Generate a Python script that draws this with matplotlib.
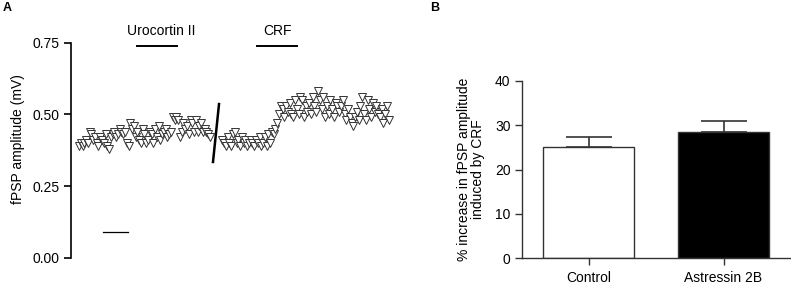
import numpy as np
import matplotlib
matplotlib.use("Agg")
import matplotlib.pyplot as plt

plt.rcParams['font.family'] = ['Liberation Sans', 'DejaVu Sans']
plt.rcParams['font.size'] = 10

# Panel A: fPSP amplitude (mV), one sample per point, two recordings
seg1 = [0.39, 0.40, 0.39, 0.40, 0.41, 0.40, 0.44, 0.43, 0.41, 0.42, 0.40, 0.39, 0.42, 0.41, 0.40,
        0.43, 0.39, 0.38, 0.42, 0.43, 0.44, 0.42, 0.43, 0.45, 0.44, 0.43, 0.44, 0.40, 0.39, 0.47,
        0.45, 0.46, 0.42, 0.44, 0.41, 0.40, 0.45, 0.43, 0.40, 0.41, 0.44, 0.43, 0.40, 0.45, 0.42,
        0.46, 0.41, 0.43, 0.44, 0.45, 0.42, 0.43, 0.44, 0.49, 0.48, 0.49, 0.48, 0.42, 0.44, 0.47,
        0.45, 0.46, 0.43, 0.48, 0.47, 0.44, 0.48, 0.44, 0.46, 0.47, 0.44, 0.45, 0.44, 0.43, 0.42]
seg2 = [0.41, 0.40, 0.39, 0.42, 0.40, 0.39, 0.43, 0.44, 0.40, 0.41, 0.39, 0.42, 0.40, 0.41, 0.39,
        0.40, 0.41, 0.40, 0.39, 0.41, 0.40, 0.42, 0.39, 0.40, 0.42, 0.39, 0.43, 0.40,
        0.44, 0.43, 0.45, 0.47, 0.50, 0.53, 0.52, 0.49, 0.53, 0.51,
        0.54, 0.50, 0.49, 0.55, 0.52, 0.50, 0.56, 0.55, 0.49, 0.53, 0.51, 0.54, 0.50, 0.56, 0.53,
        0.51, 0.58, 0.55, 0.52, 0.56, 0.49, 0.53, 0.50, 0.55, 0.52, 0.49, 0.54, 0.53, 0.51, 0.53,
        0.55, 0.50, 0.48, 0.52, 0.49, 0.47, 0.46, 0.49, 0.51, 0.48, 0.53, 0.56, 0.50, 0.48, 0.55,
        0.52, 0.49, 0.54, 0.51, 0.53, 0.50, 0.49, 0.52, 0.47, 0.50, 0.53, 0.48]
gap = 7  # samples skipped between the two recordings
yticks_a = [0.00, 0.25, 0.50, 0.75]

# Panel B: % increase induced by CRF
groups = ['Control', 'Astressin 2B']
means = [25.1, 28.5]
sems = [2.3, 2.5]
bar_colors = ['white', 'black']

fig = plt.figure(figsize=(7.91, 2.86), dpi=100)
W, H = 791.0, 286.0

# ---- Panel A ----
axA = fig.add_axes([71 / W, 28.3 / H, 324 / W, 215 / H])
t1 = np.arange(len(seg1))
t2 = np.arange(len(seg2)) + len(seg1) - 1 + gap
mk = dict(marker='v', ls='none', ms=5.2, mfc='white', mec='#333333', mew=0.7)
axA.plot(t1, seg1, **mk)
axA.plot(t2, seg2, **mk)

# break between recordings
axA.plot([75.7, 79.1], [0.334, 0.536], color='black', lw=1.8)
# drug application bars
axA.plot([32.8, 55.4], [0.738, 0.738], color='black', lw=1.4, clip_on=False)
axA.plot([100.6, 123.2], [0.738, 0.738], color='black', lw=1.4, clip_on=False)
axA.text(46.5, 0.768, 'Urocortin II', ha='center', va='bottom')
axA.text(112.0, 0.768, 'CRF', ha='center', va='bottom')
# small line near baseline
axA.plot([13.6, 27.7], [0.09, 0.09], color='black', lw=0.9)

axA.set_xlim(-4.5, 178.5)
axA.set_ylim(0, 0.75)
axA.set_yticks(yticks_a)
axA.set_yticklabels(['%.2f' % v for v in yticks_a])
axA.set_xticks([])
for s in ['top', 'right', 'bottom']:
    axA.spines[s].set_visible(False)
axA.spines['left'].set_linewidth(1.2)
axA.tick_params(axis='y', length=5, width=1.2, pad=3)
axA.set_ylabel('fPSP amplitude (mV)')
axA.yaxis.set_label_coords(-0.142, 0.55)

# ---- Panel B ----
axB = fig.add_axes([522.3 / W, 27.7 / H, 269 / W, 177.6 / H])
x = np.arange(len(groups))
axB.bar(x, means, width=0.668, color=bar_colors, edgecolor='#333333', linewidth=1.0, zorder=2)
axB.errorbar(x, means, yerr=[[0, 0], sems], fmt='none', ecolor='#333333',
             elinewidth=1.2, capsize=16.5, capthick=1.2, zorder=1)
axB.set_xlim(-0.491, 1.502)
axB.set_ylim(0, 40)
axB.set_yticks([0, 10, 20, 30, 40])
axB.set_xticks(x)
axB.set_xticklabels(groups)
for s in ['top', 'right']:
    axB.spines[s].set_visible(False)
for s in ['left', 'bottom']:
    axB.spines[s].set_linewidth(1.0)
    axB.spines[s].set_color('#333333')
axB.tick_params(axis='both', length=5, width=1.0, color='#333333')
axB.tick_params(axis='x', pad=4)
axB.set_ylabel('% increase in fPSP amplitude\ninduced by CRF', linespacing=1.0)
axB.yaxis.set_label_coords(-0.139, 0.5)

# panel letters
fig.text(3 / W, 1 - 8 / H, 'A', fontsize=9, fontweight='bold', ha='left', va='center')
fig.text(430 / W, 1 - 8 / H, 'B', fontsize=9, fontweight='bold', ha='left', va='center')

fig.savefig('out.png', dpi=100)
